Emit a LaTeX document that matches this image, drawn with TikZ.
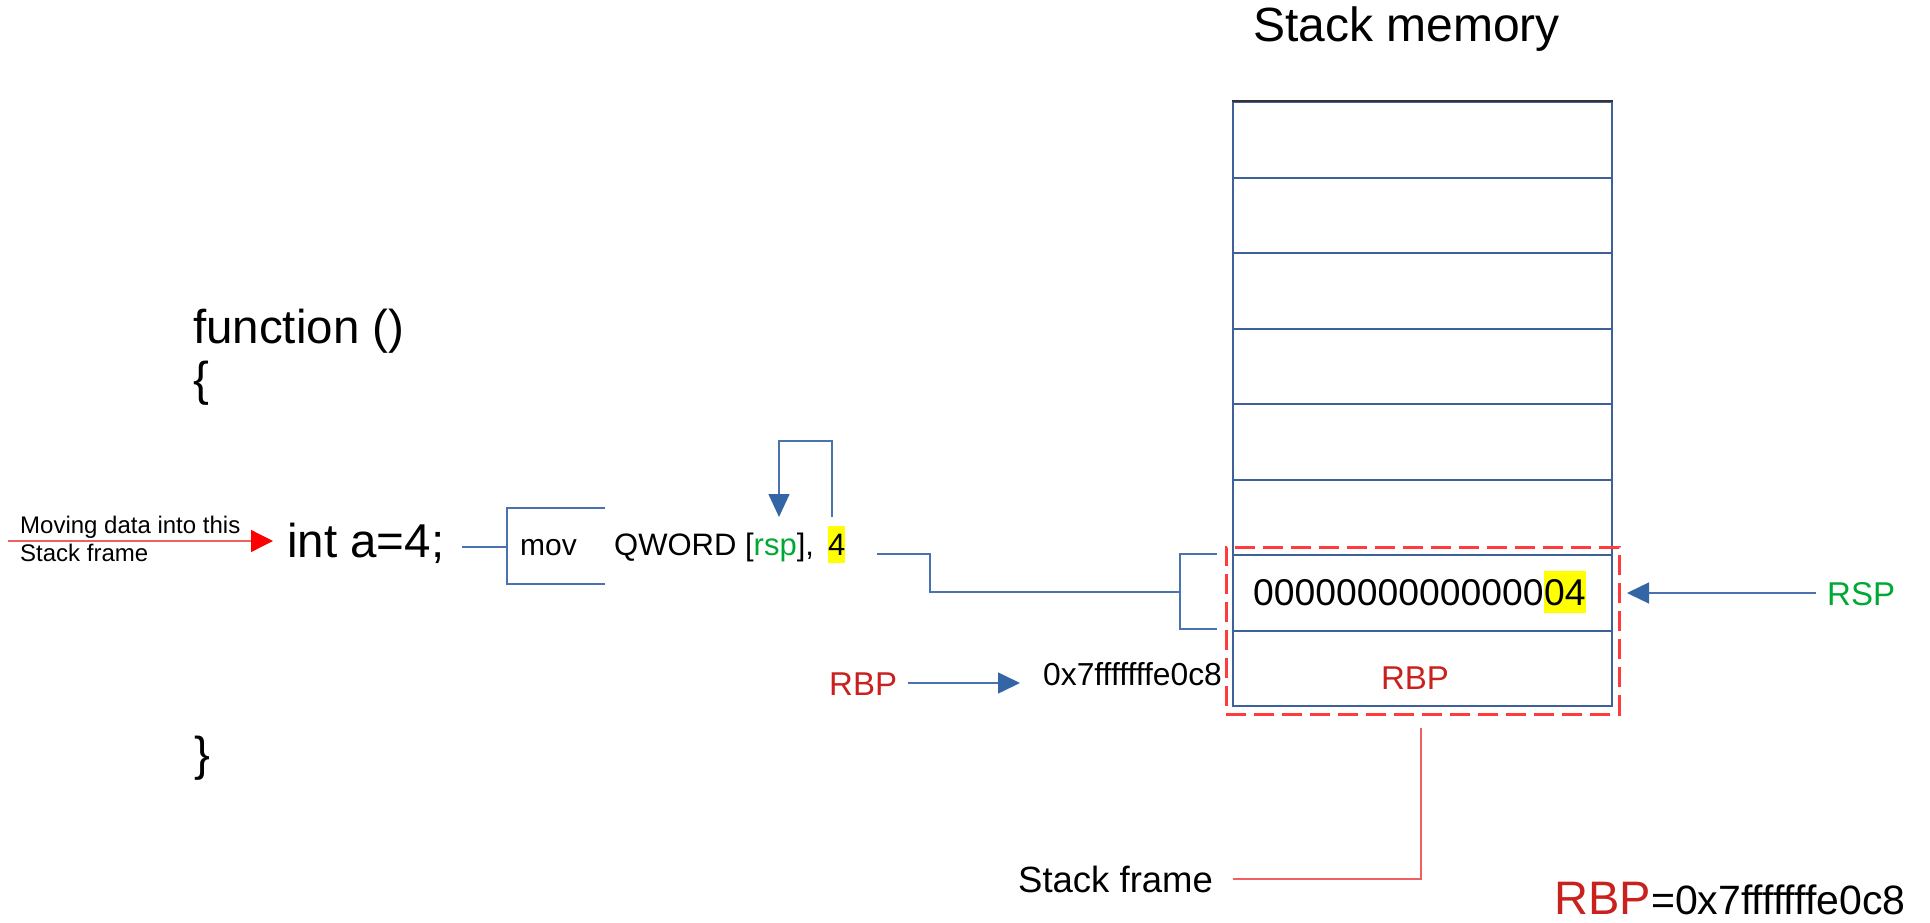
\documentclass[tikz,border=0pt]{standalone}
\usepackage{fontspec}
\setmainfont{Liberation Sans}
\usetikzlibrary{arrows.meta}
\definecolor{lnblue}{HTML}{4A72B0}
\definecolor{stkblue}{HTML}{3E6298}
\definecolor{tipblue}{HTML}{3465A4}
\definecolor{rbpred}{HTML}{C9211E}
\definecolor{rspgreen}{HTML}{00A933}
\definecolor{dashred}{HTML}{FF3B3B}
\definecolor{thinred}{HTML}{F06060}
\definecolor{hlyellow}{HTML}{FFFF00}
\newcommand\fsz[1]{\fontsize{#1}{#1}\selectfont}
\begin{document}
\begin{tikzpicture}[x=1pt,y=-1pt,
  txt/.style={inner sep=0pt, anchor=base west},
  conn/.style={draw=lnblue, line width=1.5pt},
  bluetip/.style={-{Triangle[length=#1pt,width=21pt,color=tipblue]}},
  redconn/.style={draw=thinred, line width=1.3pt},
  row/.style={draw=stkblue, line width=2pt, minimum width=379pt, minimum height=75.5pt, anchor=north west, inner sep=0pt},
  hl/.style={fill=hlyellow, inner sep=0pt, anchor=base west}]
\path[use as bounding box] (0,0) rectangle (1930,923);

% title
\node[txt] (title) at (1253,42) {\fsz{48}Stack memory};

% code
\node[txt] (fn) at (193,343) {\fsz{47.5}function ()};
\node[txt] (ob) at (193,395) {\fsz{47.5}\{};
\node[txt] (cb) at (194,770) {\fsz{47.5}\}};
\node[txt] (int) at (287,557) {\fsz{47.5}int a=4;};

% moving data label
\node[txt] (mv1) at (20,533) {\fsz{24}Moving data into this};
\node[txt] (mv2) at (20,561) {\fsz{24}Stack frame};
\coordinate (mvs) at (8,541);
\coordinate (mvt) at (273,541);
\draw[redconn, -{Triangle[length=22pt,width=22pt,color=red]}] (mvs) -- (mvt);

% instruction
\node[txt] (mov) at (520,555) {\fsz{30}mov};
\node[txt] (qw) at (614,555) {\fsz{31}QWORD [\textcolor{rspgreen}{rsp}],};
\node[hl, text height=29pt, text depth=8pt] (four) at (828,555) {\fsz{31}4};

% int -> bracket
\coordinate (ia) at (462,547);
\coordinate (ib) at (507,547);
\coordinate (bt) at (605,508);
\coordinate (bb) at (605,584);
\draw[conn] (ia) -- (ib);
\draw[conn] (bt) -- (507,508) -- (507,584) -- (bb);

% loop arrow
\coordinate (lpa) at (832,517);
\coordinate (lpb) at (779,441);
\coordinate (lpc) at (779,517);
\draw[conn, bluetip=23] (lpa) |- (lpb) -- (lpc);

% stack
\foreach \i in {0,...,7} {
  \node[row] (r\i) at (1232,{101+75.5*\i}) {};
}
\draw[draw=black!80, line width=1.5pt] (r0.north west) -- (r0.north east);

\node[txt] (zeros) at (1253,605) {\fsz{37.3}00000000000000};
\node[hl, text height=34pt, text depth=8pt] (ofour) at (zeros.base east) {\fsz{37.3}04};
\node[inner sep=0pt, anchor=base, text=rbpred] (rbpin) at (1415,689) {\fsz{33}RBP};

% dashed stack frame
\node[draw=dashred, line width=2.5pt, dash pattern=on 20pt off 8pt, minimum width=393pt, minimum height=167pt, anchor=north west, inner sep=0pt] (sf) at (1225,546) {};

% four -> stack bracket
\coordinate (fa) at (877,554);
\coordinate (fb) at (1180,592);
\coordinate (st) at (1217,554);
\coordinate (sb) at (1217,629);
\draw[conn] (fa) -- (930,554) -- (930,592) -- (fb);
\draw[conn] (st) -- (1180,554) -- (1180,629) -- (sb);

% RBP pointer
\node[txt, text=rbpred] (rbpl) at (829,695) {\fsz{33}RBP};
\node[txt] (addr) at (1043,685) {\fsz{31.8}0x7fffffffe0c8};
\coordinate (rba) at (908,683);
\coordinate (rbb) at (1020,683);
\draw[conn, bluetip=22] (rba) -- (rbb);

% RSP pointer
\node[txt, text=rspgreen] (rsp) at (1827,605) {\fsz{33}RSP};
\coordinate (rsa) at (1816,593);
\coordinate (rsb) at (1627,593);
\draw[conn, bluetip=22] (rsa) -- (rsb);

% stack frame label
\node[txt] (sfl) at (1018,892) {\fsz{36.5}Stack frame};
\coordinate (sfa) at (1421,728);
\coordinate (sfb) at (1233,879);
\draw[redconn] (sfa) |- (sfb);

% bottom right
\node[txt, text=rbpred] (rbpb) at (1554,914) {\fsz{47}RBP};
\node[txt] (rbpv) at (rbpb.base east) {\fsz{41}=0x7fffffffe0c8};
\end{tikzpicture}
\end{document}
